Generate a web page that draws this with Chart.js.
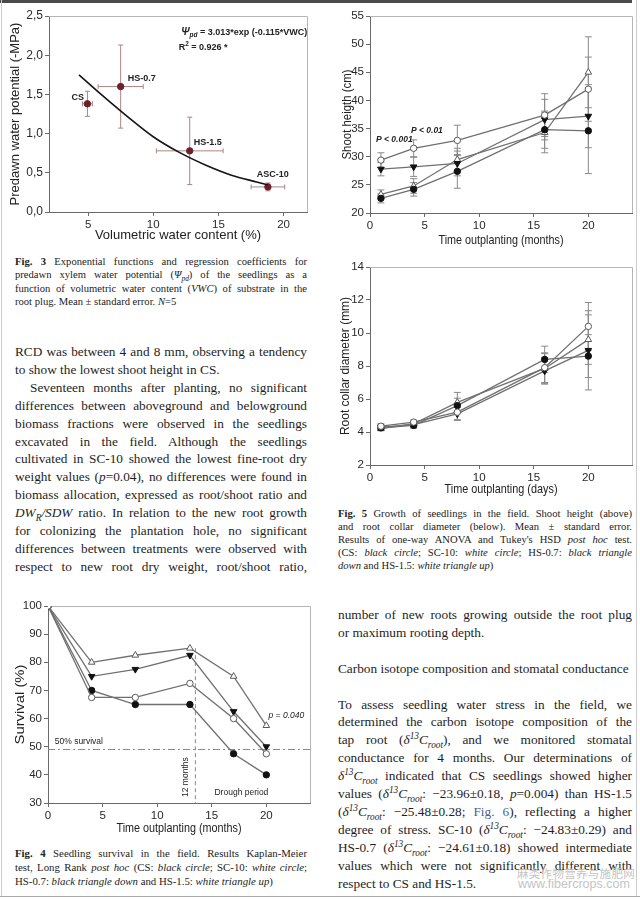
<!DOCTYPE html>
<html>
<head>
<meta charset="utf-8">
<script src="https://cdn.jsdelivr.net/npm/chart.js@4.4.0/dist/chart.umd.min.js"></script>
<style>
body { margin: 0; background: #fff; }
#page { position: relative; width: 640px; height: 900px; overflow: hidden; background: #fff;
  font-family: "Liberation Serif", "Times New Roman", serif; color: #1e1e1e; }
canvas { position: absolute; }
.block { position: absolute; }
.block div { white-space: normal; }
.j { text-align: justify; text-align-last: justify; }
.cap { font-size: 10.6px; color: #222; }
.body { font-size: 13.3px; line-height: 17.9px; }
.ind { text-indent: 15px; }
.fig { font-weight: bold; }
.link { color: #4a5f9a; }
sub, sup { font-size: 70%; line-height: 0; }
#topbar { position: absolute; left: 0; top: 0; width: 632px; height: 3px; background: #4a4a4a; }
#bottomline { position: absolute; left: 0; top: 896px; width: 640px; height: 1px; background: #aaa; }
#leftline { position: absolute; left: 1px; top: 0; width: 1px; height: 897px; background: #ccc; }
#rightline { position: absolute; left: 636px; top: 0; width: 1px; height: 897px; background: #ccc; }
.wm { position: absolute; color: #c4c4c4; white-space: nowrap; }
</style>
</head>
<body>
<div id="page">
  <div id="topbar"></div>
  <div id="leftline"></div>
  <div id="rightline"></div>
  <div id="bottomline"></div>

  <canvas id="fig3" width="320" height="248" style="left:0;top:0"></canvas>
  <canvas id="shoot" width="320" height="250" style="left:320px;top:0"></canvas>
  <canvas id="rcd" width="320" height="250" style="left:320px;top:250px"></canvas>
  <canvas id="surv" width="320" height="262" style="left:0;top:580px"></canvas>

  <div class="block cap" style="left:15px;top:255px;width:292px;line-height:13.3px">
    <div class="j"><span class="fig">Fig. 3</span> Exponential functions and regression coefficients for</div>
    <div class="j">predawn xylem water potential (<i>Ψ<sub>pd</sub></i>) of the seedlings as a</div>
    <div class="j">function of volumetric water content (<i>VWC</i>) of substrate in the</div>
    <div>root plug. Mean ± standard error. <i>N</i>=5</div>
  </div>

  <div class="block body" style="left:15px;top:343px;width:292px">
    <div class="j">RCD was between 4 and 8 mm, observing a tendency</div>
    <div>to show the lowest shoot height in CS.</div>
    <div class="j ind">Seventeen months after planting, no significant</div>
    <div class="j">differences between aboveground and belowground</div>
    <div class="j">biomass fractions were observed in the seedlings</div>
    <div class="j">excavated in the field. Although the seedlings</div>
    <div class="j">cultivated in SC-10 showed the lowest fine-root dry</div>
    <div class="j">weight values (<i>p</i>=0.04), no differences were found in</div>
    <div class="j">biomass allocation, expressed as root/shoot ratio and</div>
    <div class="j"><i>DW<sub>R</sub>/SDW</i> ratio. In relation to the new root growth</div>
    <div class="j">for colonizing the plantation hole, no significant</div>
    <div class="j">differences between treatments were observed with</div>
    <div class="j">respect to new root dry weight, root/shoot ratio,</div>
  </div>

  <div class="block cap" style="left:338px;top:507px;width:294px;line-height:13px">
    <div class="j"><span class="fig">Fig. 5</span> Growth of seedlings in the field. Shoot height (above)</div>
    <div class="j">and root collar diameter (below). Mean ± standard error.</div>
    <div class="j">Results of one-way ANOVA and Tukey's HSD <i>post hoc</i> test.</div>
    <div class="j">(CS: <i>black circle</i>; SC-10: <i>white circle</i>; HS-0.7: <i>black triangle</i></div>
    <div><i>down</i> and HS-1.5: <i>white triangle up</i>)</div>
  </div>

  <div class="block body" style="left:338px;top:606px;width:294px">
    <div class="j">number of new roots growing outside the root plug</div>
    <div>or maximum rooting depth.</div>
    <div>&nbsp;</div>
    <div>Carbon isotope composition and stomatal conductance</div>
    <div>&nbsp;</div>
    <div class="j">To assess seedling water stress in the field, we</div>
    <div class="j">determined the carbon isotope composition of the</div>
    <div class="j">tap root (<i>δ<sup>13</sup>C<sub>root</sub></i>), and we monitored stomatal</div>
    <div class="j">conductance for 4 months. Our determinations of</div>
    <div class="j"><i>δ<sup>13</sup>C<sub>root</sub></i> indicated that CS seedlings showed higher</div>
    <div class="j">values (<i>δ<sup>13</sup>C<sub>root</sub></i>: −23.96±0.18, <i>p</i>=0.004) than HS-1.5</div>
    <div class="j">(<i>δ<sup>13</sup>C<sub>root</sub></i>: −25.48±0.28; <span class="link">Fig. 6</span>), reflecting a higher</div>
    <div class="j">degree of stress. SC-10 (<i>δ<sup>13</sup>C<sub>root</sub></i>: −24.83±0.29) and</div>
    <div class="j">HS-0.7 (<i>δ<sup>13</sup>C<sub>root</sub></i>: −24.61±0.18) showed intermediate</div>
    <div class="j">values which were not significantly different with</div>
    <div>respect to CS and HS-1.5.</div>
  </div>

  <div class="block cap" style="left:15px;top:846px;width:292px;line-height:14px;font-size:10.8px">
    <div class="j"><span class="fig">Fig. 4</span> Seedling survival in the field. Results Kaplan-Meier</div>
    <div class="j">test, Long Rank <i>post hoc</i> (CS: <i>black circle</i>; SC-10: <i>white circle</i>;</div>
    <div>HS-0.7: <i>black triangle down</i> and HS-1.5: <i>white triangle up</i>)</div>
  </div>

  <div class="wm" style="left:517px;top:865px;font-family:'Noto Sans CJK SC';font-size:11.5px;letter-spacing:0.3px">麻类作物营养与施肥网</div>
  <div class="wm" style="left:518px;top:877px;font-family:'Liberation Sans';font-size:12.5px">www.fibercrops.com</div>
</div>

<script>
// Fig. 3: predawn water potential against volumetric water content
var treatments3 = ['CS', 'HS-0.7', 'HS-1.5', 'ASC-10'];
var vwc = [4.95, 7.5, 12.8, 18.8];
var vwcErr = [0.38, 1.73, 2.56, 1.29];
var psi = [1.38, 1.60, 0.78, 0.32];
var psiErr = [0.16, 0.53, 0.43, 0.05];
var fitVwc = [4.3, 6, 8, 10, 12, 14, 16, 18, 18.8];
var fitPsi = [1.75, 1.50, 1.22, 0.96, 0.76, 0.60, 0.47, 0.38, 0.345];
var vwcTicks = [5, 10, 15, 20];

// Fig. 5: shoot height (cm) and root collar diameter (mm)
var growthMonths = [1, 4, 8, 16, 20];
var shootCS = [22.6, 24.2, 27.4, 34.8, 34.6];
var shootCSErr = [0.8, 1.2, 3.0, 3.3, 7.6];
var shootSC = [29.4, 31.5, 32.9, 37.4, 42.0];
var shootSCErr = [1.3, 1.5, 2.7, 3.8, 5.7];
var shootHS07 = [27.8, 28.2, 28.8, 36.6, 37.2];
var shootHS07Err = [1.2, 1.7, 2.2, 3.6, 5.6];
var shootHS15 = [23.3, 24.8, 29.5, 34.3, 45.0];
var shootHS15Err = [0.8, 1.3, 2.0, 3.6, 6.3];

var rcdCS = [4.25, 4.4, 5.6, 8.4, 8.6];
var rcdCSErr = [0.12, 0.15, 0.45, 0.8, 1.3];
var rcdSC = [4.35, 4.6, 5.2, 7.9, 10.4];
var rcdSCErr = [0.15, 0.12, 0.45, 0.9, 1.45];
var rcdHS07 = [4.3, 4.45, 5.1, 7.7, 8.95];
var rcdHS07Err = [0.12, 0.2, 0.4, 0.8, 2.4];
var rcdHS15 = [4.2, 4.5, 5.8, 7.85, 9.6];
var rcdHS15Err = [0.12, 0.15, 0.6, 0.9, 1.5];

// Fig. 4: survival (%)
var survMonths = [0, 4, 8, 13, 17, 20];
var survCS = [100, 70, 65, 65, 47.5, 40];
var survSC = [100, 67.5, 67.5, 72.5, 60, 47.5];
var survHS07 = [100, 75, 77.5, 82.5, 62.5, 50];
var survHS15 = [100, 80, 82.5, 85, 75, 57.5];
var survivalLine = 49;
var droughtStart = 13.5;
var monthTicks = [0, 5, 10, 15, 20];

Chart.defaults.font.family = '"Liberation Sans", Arial, sans-serif';
Chart.defaults.color = '#333';

function pts(xs, ys) {
    return xs.map(function (x, i) { return {x: x, y: ys[i]}; });
}

var errorBars = {
    id: 'errorBars',
    beforeDatasetsDraw: function (chart) {
        var ctx = chart.ctx;
        var xs = chart.scales.x, ys = chart.scales.y;
        chart.data.datasets.forEach(function (ds) {
            if (!ds.errY && !ds.errX) {
                return;
            }
            ctx.save();
            ctx.strokeStyle = ds.errColor || '#888';
            ctx.lineWidth = 1;
            var cap = ds.capSize || 3;
            ds.data.forEach(function (pt, i) {
                var px = xs.getPixelForValue(pt.x);
                var py = ys.getPixelForValue(pt.y);
                ctx.beginPath();
                if (ds.errY) {
                    var y1 = ys.getPixelForValue(pt.y - ds.errY[i]);
                    var y2 = ys.getPixelForValue(pt.y + ds.errY[i]);
                    ctx.moveTo(px, y1); ctx.lineTo(px, y2);
                    ctx.moveTo(px - cap, y1); ctx.lineTo(px + cap, y1);
                    ctx.moveTo(px - cap, y2); ctx.lineTo(px + cap, y2);
                }
                if (ds.errX) {
                    var x1 = xs.getPixelForValue(pt.x - ds.errX[i]);
                    var x2 = xs.getPixelForValue(pt.x + ds.errX[i]);
                    ctx.moveTo(x1, py); ctx.lineTo(x2, py);
                    ctx.moveTo(x1, py - cap); ctx.lineTo(x1, py + cap);
                    ctx.moveTo(x2, py - cap); ctx.lineTo(x2, py + cap);
                }
                ctx.stroke();
            });
            ctx.restore();
        });
    }
};

// light frame on the top and right of the plot area
var frame = {
    id: 'frame',
    beforeDatasetsDraw: function (chart) {
        var a = chart.chartArea, ctx = chart.ctx;
        ctx.save();
        ctx.strokeStyle = '#b5b5b5';
        ctx.lineWidth = 1;
        ctx.beginPath();
        ctx.moveTo(a.left, a.top + 0.5);
        ctx.lineTo(a.right + 0.5, a.top + 0.5);
        ctx.lineTo(a.right + 0.5, a.bottom);
        ctx.stroke();
        ctx.restore();
    }
};

// text notes placed in data units
var notes = {
    id: 'notes',
    afterDatasetsDraw: function (chart, args, opts) {
        var ctx = chart.ctx;
        (opts.items || []).forEach(function (n) {
            var px = chart.scales.x.getPixelForValue(n.x);
            var py = chart.scales.y.getPixelForValue(n.y);
            ctx.save();
            ctx.translate(px, py);
            if (n.rotate) {
                ctx.rotate(n.rotate);
            }
            ctx.fillStyle = n.color || '#222';
            ctx.textBaseline = 'middle';
            var runs = n.runs || [{t: n.text}];
            var total = 0;
            runs.forEach(function (r) {
                ctx.font = r.font || n.font;
                total += ctx.measureText(r.t).width;
            });
            var cx = n.align === 'center' ? -total / 2 : 0;
            runs.forEach(function (r) {
                ctx.font = r.font || n.font;
                ctx.fillText(r.t, cx, r.dy || 0);
                cx += ctx.measureText(r.t).width;
            });
            ctx.restore();
        });
    }
};

// axis titles squeezed to the condensed face of the original
var axisTitles = {
    id: 'axisTitles',
    afterDraw: function (chart, args, opts) {
        if (!opts.x) {
            return;
        }
        var a = chart.chartArea, ctx = chart.ctx;
        ctx.save();
        ctx.fillStyle = '#222';
        ctx.textAlign = 'center';
        ctx.textBaseline = 'middle';
        ctx.font = opts.font;
        [opts.x, opts.y].forEach(function (t, i) {
            var w = ctx.measureText(t.text).width;
            ctx.save();
            if (i === 0) {
                ctx.translate((a.left + a.right) / 2, t.at);
            } else {
                ctx.translate(t.at, (a.top + a.bottom) / 2);
                ctx.rotate(-Math.PI / 2);
            }
            ctx.scale(t.width / w, 1);
            ctx.fillText(t.text, 0, 0);
            ctx.restore();
        });
        ctx.restore();
    }
};

function fixedTicks(list) {
    return function (scale) {
        scale.ticks = list.map(function (v) { return {value: v}; });
    };
}

function axis(opts) {
    var o = {
        type: 'linear',
        min: opts.min,
        max: opts.max,
        border: {color: '#6a6a6a', width: 1},
        grid: {drawOnChartArea: false, drawTicks: true, tickLength: 4, color: '#6a6a6a'},
        ticks: {font: opts.tickFont, color: '#2a2a2a', padding: opts.tickPad || 2},
        title: {display: !!opts.title, text: opts.title || '', font: opts.titleFont, color: '#222', padding: opts.titlePad},
        afterFit: opts.fit
    };
    if (opts.step) {
        o.ticks.stepSize = opts.step;
    }
    if (opts.list) {
        o.afterBuildTicks = fixedTicks(opts.list);
    }
    if (opts.cb) {
        o.ticks.callback = opts.cb;
    }
    return o;
}

// ---------------------------------------------------------------- Fig. 3
var boldNote = 'bold 9px "Liberation Sans", Arial, sans-serif';
new Chart(document.getElementById('fig3').getContext('2d'), {
    type: 'scatter',
    data: {
        datasets: [{
            label: 'fit',
            type: 'line',
            data: pts(fitVwc, fitPsi),
            borderColor: '#151515',
            borderWidth: 1.6,
            pointRadius: 0,
            cubicInterpolationMode: 'monotone',
            fill: false
        }, {
            label: 'treatments',
            data: pts(vwc, psi),
            errX: vwcErr,
            errY: psiErr,
            errColor: '#ab8585',
            capSize: 2.5,
            pointRadius: 3.2,
            backgroundColor: '#6e1f2b',
            borderColor: '#6e1f2b'
        }]
    },
    options: {
        responsive: false,
        animation: false,
        layout: {padding: {top: 16, right: 13, left: 0, bottom: 0}},
        plugins: {
            legend: {display: false},
            tooltip: {enabled: false},
            notes: {items: [
                {x: 4.2, y: 1.46, text: treatments3[0], font: boldNote, align: 'center'},
                {x: 8.05, y: 1.70, text: treatments3[1], font: boldNote},
                {x: 13.1, y: 0.89, text: treatments3[2], font: boldNote},
                {x: 17.95, y: 0.48, text: treatments3[3], font: boldNote},
                {x: 12.15, y: 2.29, font: boldNote, runs: [
                    {t: 'Ψ', font: 'bold italic 10px "Liberation Sans", Arial, sans-serif'},
                    {t: 'pd', font: 'bold italic 6.5px "Liberation Sans", Arial, sans-serif', dy: 3},
                    {t: ' = 3.013*exp (-0.115*VWC)'}
                ]},
                {x: 11.95, y: 2.10, font: boldNote, runs: [
                    {t: 'R'},
                    {t: '2', font: 'bold 6.5px "Liberation Sans", Arial, sans-serif', dy: -3},
                    {t: ' = 0.926 *'}
                ]}
            ]}
        },
        scales: {
            x: axis({min: 2, max: 21.8, list: vwcTicks, title: 'Volumetric water content (%)',
                tickFont: {size: 11.5}, tickPad: 1.5, titleFont: {size: 13}, titlePad: {top: 0, bottom: 5},
                fit: function (s) { s.height = 36; }}),
            y: axis({min: 0, max: 2.5, step: 0.5, title: 'Predawn water potential (-MPa)',
                tickFont: {size: 12}, titleFont: {size: 13}, titlePad: {top: 8, bottom: 0},
                cb: function (v) { return v.toFixed(1).replace('.', ','); },
                fit: function (s) { s.width = 49; }})
        }
    },
    plugins: [errorBars, frame, notes]
});

// ---------------------------------------------------------------- Fig. 5
var lineGrey = '#707070';
function series(xs, ys, errs, style) {
    var ds = {
        data: pts(xs, ys),
        borderColor: lineGrey,
        borderWidth: 1.3,
        tension: 0,
        fill: false,
        pointStyle: style.shape,
        pointRotation: style.rot || 0,
        pointRadius: style.shape === 'triangle' ? 3.8 : 3.2,
        pointBackgroundColor: style.fill,
        pointBorderColor: style.edge,
        pointBorderWidth: 1,
        order: style.order
    };
    if (errs) {
        ds.errY = errs;
        ds.errColor = '#8a8a8a';
        ds.capSize = 3.5;
    }
    return ds;
}
var styleCS = {shape: 'circle', fill: '#111', edge: '#111', order: 3};
var styleSC = {shape: 'circle', fill: '#fff', edge: '#5a5a5a', order: 1};
var styleHS07 = {shape: 'triangle', rot: 180, fill: '#111', edge: '#111', order: 2};
var styleHS15 = {shape: 'triangle', fill: '#fff', edge: '#5a5a5a', order: 4};

var pNote = 'bold italic 8.5px "Liberation Sans", Arial, sans-serif';
var tickFont = {size: 11.5};
var titleFace = '13.5px "Liberation Sans", Arial, sans-serif';

new Chart(document.getElementById('shoot').getContext('2d'), {
    type: 'line',
    data: {datasets: [
        series(growthMonths, shootCS, shootCSErr, styleCS),
        series(growthMonths, shootSC, shootSCErr, styleSC),
        series(growthMonths, shootHS07, shootHS07Err, styleHS07),
        series(growthMonths, shootHS15, shootHS15Err, styleHS15)
    ]},
    options: {
        responsive: false,
        animation: false,
        layout: {padding: {top: 16, right: 8, left: 0, bottom: 0}},
        plugins: {
            legend: {display: false},
            tooltip: {enabled: false},
            notes: {items: [
                {x: 0.55, y: 33.1, text: 'P < 0.001', font: pNote},
                {x: 3.75, y: 34.6, text: 'P < 0.01', font: pNote}
            ]},
            axisTitles: {
                font: titleFace,
                x: {text: 'Time outplanting (months)', at: 240, width: 125},
                y: {text: 'Shoot heigth (cm)', at: 27, width: 90}
            }
        },
        scales: {
            x: axis({min: 0, max: 24, list: monthTicks, tickFont: tickFont,
                fit: function (s) { s.height = 37; }}),
            y: axis({min: 20, max: 55, step: 5, tickFont: tickFont,
                fit: function (s) { s.width = 50; }})
        }
    },
    plugins: [errorBars, frame, notes, axisTitles]
});

new Chart(document.getElementById('rcd').getContext('2d'), {
    type: 'line',
    data: {datasets: [
        series(growthMonths, rcdCS, rcdCSErr, styleCS),
        series(growthMonths, rcdSC, rcdSCErr, styleSC),
        series(growthMonths, rcdHS07, rcdHS07Err, styleHS07),
        series(growthMonths, rcdHS15, rcdHS15Err, styleHS15)
    ]},
    options: {
        responsive: false,
        animation: false,
        layout: {padding: {top: 17, right: 8, left: 0, bottom: 0}},
        plugins: {
            legend: {display: false},
            tooltip: {enabled: false},
            axisTitles: {
                font: titleFace,
                x: {text: 'Time outplanting (days)', at: 239, width: 113},
                y: {text: 'Root collar diameter (mm)', at: 25, width: 138}
            }
        },
        scales: {
            x: axis({min: 0, max: 24, list: monthTicks, tickFont: tickFont,
                fit: function (s) { s.height = 35; }}),
            y: axis({min: 2, max: 14, step: 2, tickFont: tickFont,
                fit: function (s) { s.width = 50; }})
        }
    },
    plugins: [errorBars, frame, axisTitles]
});

// ---------------------------------------------------------------- Fig. 4
var refGrey = '#8a8a8a';
var smallNote = '8.5px "Liberation Sans", Arial, sans-serif';
new Chart(document.getElementById('surv').getContext('2d'), {
    type: 'line',
    data: {datasets: [
        {
            data: [{x: 0, y: survivalLine}, {x: 24, y: survivalLine}],
            borderColor: refGrey, borderWidth: 1, borderDash: [7, 3, 2, 3],
            pointRadius: 0, fill: false, order: 9
        },
        {
            data: [{x: droughtStart, y: 85}, {x: droughtStart, y: 30}],
            borderColor: refGrey, borderWidth: 1, borderDash: [4, 3],
            pointRadius: 0, fill: false, order: 9
        },
        series(survMonths, survCS, null, styleCS),
        series(survMonths, survHS15, null, styleHS15),
        series(survMonths, survHS07, null, styleHS07),
        series(survMonths, survSC, null, styleSC)
    ]},
    options: {
        responsive: false,
        animation: false,
        layout: {padding: {top: 26, right: 10, left: 0, bottom: 0}},
        plugins: {
            legend: {display: false},
            tooltip: {enabled: false},
            notes: {items: [
                {x: 0.62, y: 51.8, text: '50% survival', font: smallNote},
                {x: 20.2, y: 60.9, text: 'p = 0.040', font: 'italic 8.5px "Liberation Sans", Arial, sans-serif'},
                {x: 12.65, y: 39.2, text: '12 months', font: smallNote, align: 'center', rotate: -Math.PI / 2},
                {x: 15.25, y: 33.6, text: 'Drough period', font: smallNote}
            ]},
            axisTitles: {
                font: titleFace,
                x: {text: 'Time outplanting (months)', at: 248, width: 125},
                y: {text: 'Survival (%)', at: 20, width: 80}
            }
        },
        scales: {
            x: axis({min: 0, max: 24, list: monthTicks, tickFont: tickFont,
                fit: function (s) { s.height = 39; }}),
            y: axis({min: 30, max: 100, step: 10, tickFont: tickFont,
                fit: function (s) { s.width = 48; }})
        }
    },
    plugins: [frame, notes, axisTitles]
});
</script>
</body>
</html>
